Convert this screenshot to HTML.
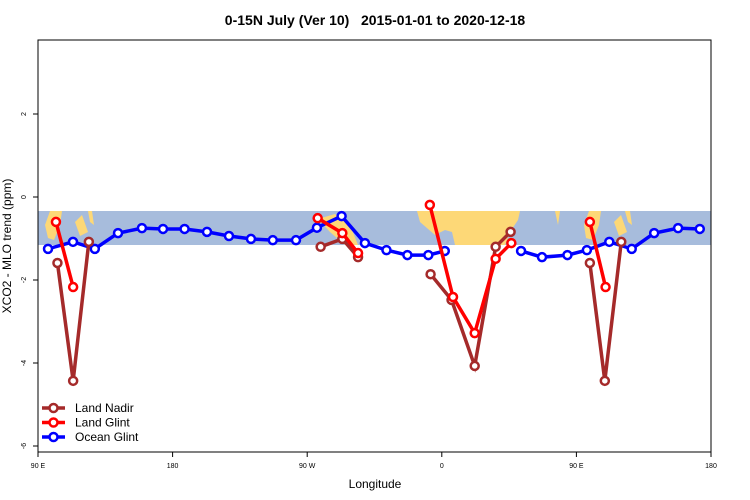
<!DOCTYPE html>
<html><head><meta charset="utf-8"><style>
body{margin:0;background:#fff;}
svg{display:block;font-family:"Liberation Sans",sans-serif;}
</style></head><body>
<svg id="chart" width="750" height="500">
<text x="375" y="25" text-anchor="middle" font-size="14" font-weight="bold" xml:space="preserve" style="white-space:pre">0-15N July (Ver 10)   2015-01-01 to 2020-12-18</text>
<g id="map"></g>
<g id="axes"></g>
<g id="series"></g>
<g id="legend"></g>
<text x="375" y="488" text-anchor="middle" font-size="12">Longitude</text>
<text transform="translate(11,246) rotate(-90)" text-anchor="middle" font-size="12">XCO2 - MLO trend (ppm)</text>
</svg>
<script>
const xTicks=[90,180,270,360,450,540];
const xTickLabels=["90 E","180","90 W","0","90 E","180"];
const yTicks=[2,0,-2,-4,-6];
const seriesNames=["Land Nadir","Land Glint","Ocean Glint"];
const seriesColors=["#a52a2a","#ff0000","#0000ff"];
const oceanLon=[96.7,113.4,128,143.5,159.5,173.6,188,203,217.7,232.4,247,262.5,276.5,293,308.6,323,337,351,362,null,413,427,444,457,472,487,502,518,532.5];
const oceanVal=[-1.25,-1.08,-1.25,-0.87,-0.75,-0.77,-0.77,-0.84,-0.94,-1.01,-1.04,-1.04,-0.74,-0.46,-1.11,-1.28,-1.40,-1.40,-1.30,null,-1.30,-1.45,-1.40,-1.28,-1.08,-1.25,-0.87,-0.75,-0.77];
const nadirLon=[103,113.5,124,null,279,293.5,304,null,352.5,366.5,382,396,406,null,459,469,480];
const nadirVal=[-1.59,-4.43,-1.08,null,-1.2,-1.01,-1.45,null,-1.86,-2.48,-4.07,-1.2,-0.84,null,-1.59,-4.43,-1.08];
const glintLon=[102,113.5,null,277,293.5,304,null,352,367.5,382,396,406.5,null,459,469.5];
const glintVal=[-0.6,-2.17,null,-0.51,-0.87,-1.35,null,-0.19,-2.41,-3.28,-1.49,-1.11,null,-0.6,-2.17];
const X0=38,X1=711,Y0=40,Y1=452;
function xs(l){return X0+(l-90)*(X1-X0)/450;}
function ys(v){return 197-v*41.5;}
const NS="http://www.w3.org/2000/svg";
function mk(t,a,p){const e=document.createElementNS(NS,t);for(const k in a)e.setAttribute(k,a[k]);(p||document.getElementById('chart')).appendChild(e);return e;}
const map=document.getElementById('map');
const band=mk('rect',{x:X0,y:211,width:X1-X0,height:34,fill:'#a7bcdc'},map);


const lands=[
"417,211 520,211 518,220 510,232 505,245 455,245 452,232 445,230 435,235 420,222",
"50,211 62,211 60,225 54,240 48,238 45,225",
"75,222 82,215 88,232 80,236",
"88,211 92,211 94,225 90,222",
"318,219 335,214 350,225 358,245 345,245 330,232",
"555,211 560,211 558,225",
"589,211 601,211 599,225 593,240 586,238 584,225",
"614,222 621,215 627,232 619,236",
"625,211 630,211 632,225 628,222"];
lands.forEach(p=>{const e=mk('polygon',{points:p,fill:'#fdd877'},map);

});
const ax=document.getElementById('axes');
const fr=mk('rect',{x:X0,y:Y0,width:X1-X0,height:Y1-Y0,fill:'none',stroke:'#000','stroke-width':1},ax);


xTicks.forEach((t,i)=>{const x=xs(t);
mk('line',{x1:x,x2:x,y1:Y1,y2:Y1+5,stroke:'#000'},ax);
const tx=mk('text',{x:x,y:Y1+16,'text-anchor':'middle','font-size':7},ax);tx.textContent=xTickLabels[i];

});
yTicks.forEach(t=>{const y=ys(t);
mk('line',{x1:X0,x2:X0-5,y1:y,y2:y,stroke:'#000'},ax);
const tx=mk('text',{transform:`translate(${X0-12},${y}) rotate(-90)`,'text-anchor':'middle','font-size':7},ax);tx.textContent=t;

});
const sg=document.getElementById('series');
function drawSeries(lons,vals,color,name){
 const g=mk('g',{},sg);
 
 
 let seg=[];const segs=[];
 lons.forEach((l,i)=>{if(l===null||vals[i]===null){if(seg.length)segs.push(seg);seg=[];}else seg.push([xs(l),ys(vals[i])]);});
 if(seg.length)segs.push(seg);
 segs.forEach(s=>{mk('polyline',{points:s.map(p=>p.join(',')).join(' '),fill:'none',stroke:color,'stroke-width':3.5},g);});
 segs.forEach(s=>s.forEach(p=>{const c=mk('circle',{cx:p[0],cy:p[1],r:4,fill:'#fff',stroke:color,'stroke-width':2.5},g);
 
 }));
}
drawSeries(oceanLon,oceanVal,seriesColors[2],'ocean-glint-series');
drawSeries(nadirLon,nadirVal,seriesColors[0],'land-nadir-series');
drawSeries(glintLon,glintVal,seriesColors[1],'land-glint-series');
const lg=document.getElementById('legend');
seriesNames.forEach((n,i)=>{const y=408+i*14.5;
const g=mk('g',{},lg);


mk('line',{x1:42,x2:65,y1:y,y2:y,stroke:seriesColors[i],'stroke-width':3.5},g);
mk('circle',{cx:53.5,cy:y,r:4,fill:'#fff',stroke:seriesColors[i],'stroke-width':2.5},g);
const t=mk('text',{x:75,y:y+4,'font-size':12},g);t.textContent=n;});
</script>
</body></html>
